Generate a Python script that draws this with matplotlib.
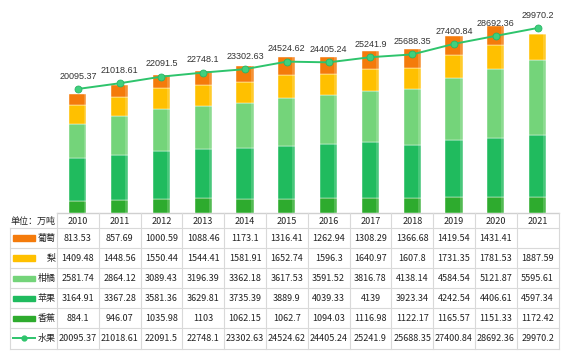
import matplotlib
matplotlib.use('Agg')
from matplotlib import pyplot as plt
from matplotlib.patches import Rectangle
import numpy as np

plt.rcParams['font.family'] = ['Noto Sans CJK SC', 'DejaVu Sans']

# data (万吨)
years = ['2010', '2011', '2012', '2013', '2014', '2015', '2016', '2017', '2018', '2019', '2020', '2021']
grape = [813.53, 857.69, 1000.59, 1088.46, 1173.1, 1316.41, 1262.94, 1308.29, 1366.68, 1419.54, 1431.41, None]
pear = [1409.48, 1448.56, 1550.44, 1544.41, 1581.91, 1652.74, 1596.3, 1640.97, 1607.8, 1731.35, 1781.53, 1887.59]
citrus = [2581.74, 2864.12, 3089.43, 3196.39, 3362.18, 3617.53, 3591.52, 3816.78, 4138.14, 4584.54, 5121.87, 5595.61]
apple = [3164.91, 3367.28, 3581.36, 3629.81, 3735.39, 3889.9, 4039.33, 4139, 3923.34, 4242.54, 4406.61, 4597.34]
banana = [884.1, 946.07, 1035.98, 1103, 1062.15, 1062.7, 1094.03, 1116.98, 1122.17, 1165.57, 1151.33, 1172.42]
fruit = [20095.37, 21018.61, 22091.5, 22748.1, 23302.63, 24524.62, 24405.24, 25241.9, 25688.35, 27400.84, 28692.36, 29970.2]

# bottom to top in the stack
stack_names = ['香蕉', '苹果', '柑橘', '梨', '葡萄']
stack_vals = [banana, apple, citrus, pear, grape]
stack_colors = ['#2eab2e', '#20bb5e', '#74d47a', '#ffc000', '#f47b0b']

# table rows, top to bottom
row_names = ['葡萄', '梨', '柑橘', '苹果', '香蕉', '水果']
row_vals = [grape, pear, citrus, apple, banana, fruit]
row_colors = ['#f47b0b', '#ffc000', '#74d47a', '#20bb5e', '#2eab2e', '#2ec46c']
line_color = '#2ec46c'


def fmt(v):
    return f'{v:.2f}'.rstrip('0').rstrip('.')


W, H = 572, 357
fig = plt.figure(figsize=(W / 100, H / 100), dpi=100)


def box(x0, y0, x1, y1):
    return [x0 / W, 1 - y1 / H, (x1 - x0) / W, (y1 - y0) / H]


n = len(years)
x = np.arange(n)

# bars on their own axis
ax = fig.add_axes(box(57, 0, 558.5, 213))
bottom = np.zeros(n)
bw = 0.41
for name, vals, col in zip(stack_names, stack_vals, stack_colors):
    v = np.array([0 if a is None else a for a in vals], dtype=float)
    ax.bar(x, v, bw, bottom=bottom, color=col, edgecolor='white', linewidth=0.3, zorder=2)
    # lighter strip on the right side for the 3d look
    ax.bar(x + bw / 2 - 0.035, v, 0.07, bottom=bottom, color='white', alpha=0.18,
           linewidth=0, zorder=3)
    bottom += v
ax.set_xlim(-0.5, n - 0.5)
ax.set_ylim(0, 15805)
ax.axis('off')
ax.plot([-0.5, n - 0.5], [0, 0], color='#d0d0d0', lw=1, zorder=1, clip_on=False)

# line on a second axis
ax2 = ax.twinx()
ax2.plot(x, fruit, color=line_color, lw=1.4, marker='o', markersize=5,
         markerfacecolor='#3fd07e', markeredgecolor='#2ab566', markeredgewidth=0.6, zorder=5)
for xi, v in zip(x, fruit):
    ax2.annotate(fmt(v), (xi, v), xytext=(0, 6), textcoords='offset points',
                 ha='center', va='bottom', fontsize=6.5, color='#333333',
                 family=['Liberation Sans', 'DejaVu Sans'])
ax2.set_xlim(-0.5, n - 0.5)
ax2.set_ylim(0, 34506)
ax2.axis('off')

# data table below
xl = -0.5 - 47 / 41.79
tb = fig.add_axes(box(10, 213, 558.5, 348.5))
tb.set_xlim(xl, n - 0.5)
tb.set_ylim(len(row_names) + 0.76, 0)
tb.axis('off')
grid = '#d9d9d9'
# vertical lines
for xv in list(np.arange(-0.5, n, 1.0)) + [xl]:
    top = 0 if xv > xl else 0.76
    tb.plot([xv, xv], [top, len(row_names) + 0.76], color=grid, lw=0.8, clip_on=False)
# horizontal lines
for k in range(len(row_names) + 1):
    yv = 0.76 + k
    tb.plot([xl, n - 0.5], [yv, yv], color=grid, lw=0.8, clip_on=False)

tb.text(-0.54, 0.40, '单位：万吨', ha='right', va='center', fontsize=6.5, color='#222222')
for xi, yr in zip(x, years):
    tb.text(xi, 0.40, yr, ha='center', va='center', fontsize=6.5, color='#222222')

sw0, sw1 = xl + 3 / 41.79, xl + 25 / 41.79
for r, (name, vals, col) in enumerate(zip(row_names, row_vals, row_colors)):
    yc = 0.76 + r + 0.5
    if name == '水果':
        tb.plot([sw0, sw1], [yc, yc], color=col, lw=1.4, clip_on=False)
        tb.plot([(sw0 + sw1) / 2], [yc], 'o', color=col, markersize=3.5, clip_on=False)
    else:
        tb.add_patch(Rectangle((sw0, yc - 0.14), sw1 - sw0, 0.28, color=col, clip_on=False))
    tb.text(-0.54, yc, name, ha='right', va='center', fontsize=6.5, color='#222222')
    for xi, v in zip(x, vals):
        if v is not None:
            tb.text(xi, yc, fmt(v), ha='center', va='center', fontsize=6.5, color='#222222')

fig.savefig('out.png', dpi=100)
